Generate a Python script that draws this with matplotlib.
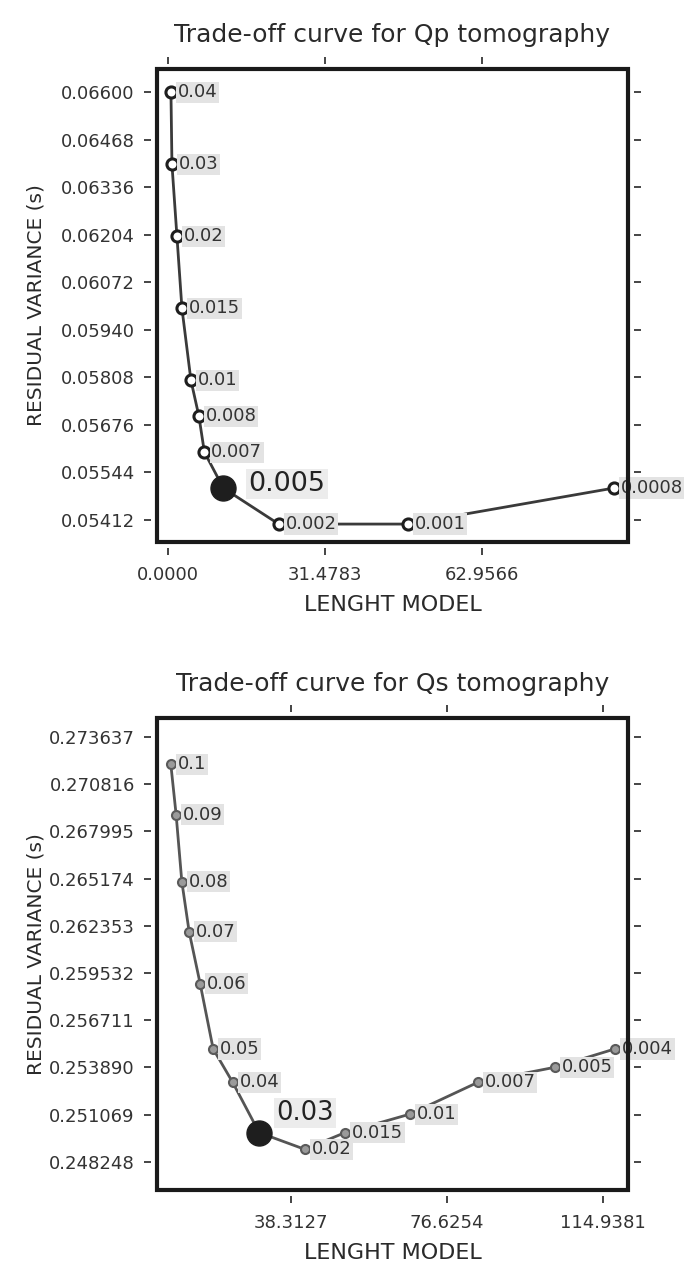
import matplotlib
matplotlib.use('Agg')
import matplotlib.pyplot as plt
from matplotlib.patches import Rectangle

plt.rcParams['font.family'] = ['DejaVu Sans']

# Qp inversion: damping values, model length, residual variance
qp_damping = ['0.04', '0.03', '0.02', '0.015', '0.01', '0.008', '0.007',
              '0.005', '0.002', '0.001', '0.0008']
qp_length = [0.6, 0.8, 1.8, 2.8, 4.6, 6.2, 7.3, 11.1, 22.2, 48.1, 89.3]
qp_variance = [0.0660, 0.0640, 0.0620, 0.0600, 0.0580, 0.0570, 0.0560,
               0.0550, 0.0540, 0.0540, 0.0550]
qp_best = '0.005'
qp_xticks = [0.0, 31.4783, 62.9566]
qp_yticks = [0.05412, 0.05544, 0.05676, 0.05808, 0.05940, 0.06072,
             0.06204, 0.06336, 0.06468, 0.06600]

# Qs inversion
qs_damping = ['0.1', '0.09', '0.08', '0.07', '0.06', '0.05', '0.04', '0.03',
              '0.02', '0.015', '0.01', '0.007', '0.005', '0.004']
qs_length = [8.8, 10.1, 11.5, 13.3, 16.0, 19.2, 24.0, 30.5, 41.7, 51.6,
             67.5, 84.2, 103.1, 117.9]
qs_variance = [0.2720, 0.2690, 0.2650, 0.2620, 0.2589, 0.2550, 0.2530,
               0.2500, 0.2490, 0.2500, 0.2511, 0.2530, 0.2539, 0.2550]
qs_best = '0.03'
qs_xticks = [38.3127, 76.6254, 114.9381]
qs_yticks = [0.248248, 0.251069, 0.253890, 0.256711, 0.259532, 0.262353,
             0.265174, 0.267995, 0.270816, 0.273637]

TXT = '#333333'
BOX = dict(facecolor='#e3e3e3', edgecolor='none', pad=1.2)


def tradeoff(ax, lengths, variances, labels, best, xticks, yticks, xfmt, yfmt,
             xlim, ylim, title, line_color, mfc, mec, ms, mew, best_dx, best_dy,
             best_size):
    ax.plot(lengths, variances, '-', color=line_color, lw=2, zorder=2)
    for x, y, lab in zip(lengths, variances, labels):
        if lab == best:
            ax.plot(x, y, 'o', ms=18, color='#1e1e1e', zorder=4)
            ax.annotate(lab, (x, y), xytext=(best_dx, best_dy), textcoords='offset points',
                        ha='left', va='center', fontsize=best_size, color='#222222',
                        bbox=dict(facecolor='#ececec', edgecolor='none', pad=1.5),
                        zorder=5)
        else:
            ax.plot(x, y, 'o', ms=ms, mfc=mfc, mec=mec, mew=mew, zorder=3)
            ax.annotate(lab, (x, y), xytext=(5, 0), textcoords='offset points',
                        ha='left', va='center', fontsize=13, color=TXT,
                        bbox=BOX, zorder=5, annotation_clip=False)

    ax.set_xlim(*xlim)
    ax.set_ylim(*ylim)
    ax.set_xticks(xticks)
    ax.set_xticklabels([xfmt % v for v in xticks])
    ax.set_yticks(yticks)
    ax.set_yticklabels([yfmt % v for v in yticks])

    # ticks sit slightly away from the box, on all four sides
    for side in ['left', 'right', 'top', 'bottom']:
        ax.spines[side].set_position(('outward', 4))
        ax.spines[side].set_visible(False)
    ax.tick_params(direction='out', length=5, width=1.4, color='#444444',
                   labelsize=13, labelcolor=TXT, top=True, right=True,
                   labeltop=False, labelright=False)
    ax.tick_params(axis='y', pad=7)
    ax.tick_params(axis='x', pad=8)
    ax.add_patch(Rectangle((0, 0), 1, 1, transform=ax.transAxes, fill=False,
                           lw=3, edgecolor='#1a1a1a', clip_on=False, zorder=6))

    ax.text(0.5, 1.072, title, transform=ax.transAxes, ha='center', va='center',
            fontsize=18, color='#2a2a2a')
    ax.text(0.5, -0.133, 'LENGHT MODEL', transform=ax.transAxes, ha='center',
            va='center', fontsize=16, color='#2a2a2a')
    ax.text(-0.257, 0.5, 'RESIDUAL VARIANCE (s)', transform=ax.transAxes,
            ha='center', va='center', rotation=90, fontsize=14.5, color='#2a2a2a')


fig = plt.figure(figsize=(6.94, 12.65), dpi=100)
ax1 = fig.add_axes([0.2262, 0.5715, 0.6787, 0.3739])
ax2 = fig.add_axes([0.2262, 0.0593, 0.6787, 0.3731])

tradeoff(ax1, qp_length, qp_variance, qp_damping, qp_best, qp_xticks, qp_yticks,
         '%.4f', '%.5f', (-2.2, 92.2), (0.05350, 0.06665),
         'Trade-off curve for Qp tomography', '#3a3a3a', 'white', '#1e1e1e', 8, 2.2,
         18, 3, 19.5)
tradeoff(ax2, qs_length, qs_variance, qs_damping, qs_best, qs_xticks, qs_yticks,
         '%.4f', '%.6f', (5.4, 121.1), (0.24657, 0.27477),
         'Trade-off curve for Qs tomography', '#555555', '#9a9a9a', '#5a5a5a', 6.5, 1.5,
         12, 14, 18.5)

fig.savefig('out.png', dpi=100)
